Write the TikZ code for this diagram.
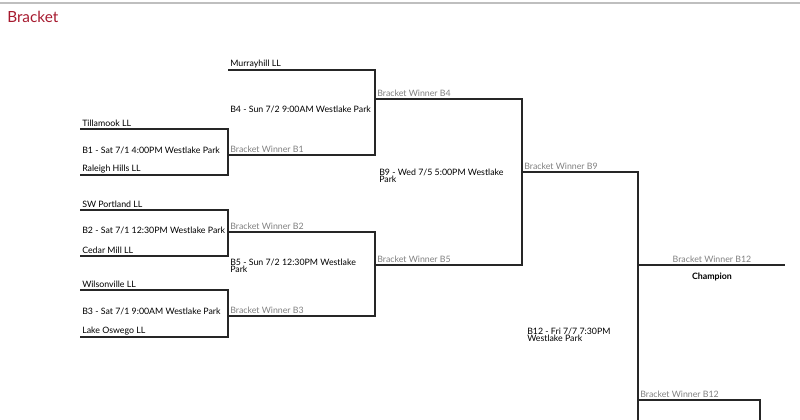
\documentclass[tikz,border=0pt]{standalone}
\usepackage{fontspec}
\setmainfont{Lato}
\usepackage{tikz}
\usetikzlibrary{positioning}
\definecolor{brred}{HTML}{A6192E}
\definecolor{wingray}{HTML}{808080}
\tikzset{team/.style={anchor=south west,inner sep=1.5pt,font=\fontsize{6.6}{6.6}\selectfont},
  winner/.style={team,text=wingray},
  game/.style={anchor=west,inner sep=1.5pt,align=left,font=\fontsize{6.6}{5.6}\selectfont},
  bline/.style={draw=black!85,line width=0.9pt}}
\begin{document}
\begin{tikzpicture}[x=0.75pt,y=-0.75pt]
\useasboundingbox (0,0) rectangle (800,420);
\draw[black!25,line width=1pt] (0,3)--(800,3);
\node[anchor=west,inner sep=0pt,text=brred,font=\fontsize{11.5}{11.5}\selectfont] (title) at (7,17) {Bracket};
% round 1
\coordinate (t1) at (80,129); \coordinate (t2) at (80,175);
\coordinate (t3) at (80,210); \coordinate (t4) at (80,256);
\coordinate (t5) at (80,290); \coordinate (t6) at (80,337);
\coordinate (m1) at (228,129); \coordinate (m2) at (228,175);
\coordinate (m3) at (228,210); \coordinate (m4) at (228,256);
\coordinate (m5) at (228,290); \coordinate (m6) at (228,337);
\draw[bline] (t1)--(m1)--(m2)--(t2);
\draw[bline] (t3)--(m3)--(m4)--(t4);
\draw[bline] (t5)--(m5)--(m6)--(t6);
\node[team] (tillamook) at (t1) {Tillamook LL};
\node[team] (raleigh) at (t2) {Raleigh Hills LL};
\node[team] (swport) at (t3) {SW Portland LL};
\node[team] (cedar) at (t4) {Cedar Mill LL};
\node[team] (wilson) at (t5) {Wilsonville LL};
\node[team] (oswego) at (t6) {Lake Oswego LL};
\node[game] (g1) at (80,150) {B1 - Sat 7/1 4:00PM Westlake Park};
\node[game] (g2) at (80,230) {B2 - Sat 7/1 12:30PM Westlake Park};
\node[game] (g3) at (80,311) {B3 - Sat 7/1 9:00AM Westlake Park};
% round 2
\coordinate (s1) at (228,70); \coordinate (s2) at (228,155);
\coordinate (s3) at (228,232); \coordinate (s4) at (228,316);
\coordinate (n1) at (375,70); \coordinate (n2) at (375,155);
\coordinate (n3) at (375,232); \coordinate (n4) at (375,316);
\draw[bline] (s1)--(n1)--(n2)--(s2);
\draw[bline] (s3)--(n3)--(n4)--(s4);
\node[team] (murray) at (s1) {Murrayhill LL};
\node[winner] (wb1) at (s2) {Bracket Winner B1};
\node[winner] (wb2) at (s3) {Bracket Winner B2};
\node[winner] (wb3) at (s4) {Bracket Winner B3};
\node[game] (g4) at (228,109) {B4 - Sun 7/2 9:00AM Westlake Park};
\node[game] (g5) at (228,266) {B5 - Sun 7/2 12:30PM Westlake\\Park};
% round 3
\coordinate (r1) at (375,99); \coordinate (r2) at (375,265);
\coordinate (q1) at (522,99); \coordinate (q2) at (522,265);
\draw[bline] (r1)--(q1)--(q2)--(r2);
\node[winner] (wb4) at (r1) {Bracket Winner B4};
\node[winner] (wb5) at (r2) {Bracket Winner B5};
\node[game] (g9) at (377,176) {B9 - Wed 7/5 5:00PM Westlake\\Park};
% final
\coordinate (f1) at (522,172); \coordinate (f2) at (638,172);
\coordinate (f3) at (638,425); \coordinate (f4) at (638,400);
\coordinate (f5) at (760,400); \coordinate (f6) at (760,425);
\coordinate (c1) at (638,265); \coordinate (c2) at (785,265);
\draw[bline] (f1)--(f2)--(f3);
\draw[bline] (f4)--(f5)--(f6);
\draw[bline] (c1)--(c2);
\node[winner] (wb9) at (f1) {Bracket Winner B9};
\node[winner] (wb12b) at (f4) {Bracket Winner B12};
\node[winner,anchor=south] (wb12) at (712,265) {Bracket Winner B12};
\node[font=\fontsize{6.6}{6.6}\selectfont\bfseries,inner sep=0pt] (champ) at (712,277) {Champion};
\node[game] (g12) at (525,335) {B12 - Fri 7/7 7:30PM\\Westlake Park};
\end{tikzpicture}
\end{document}
